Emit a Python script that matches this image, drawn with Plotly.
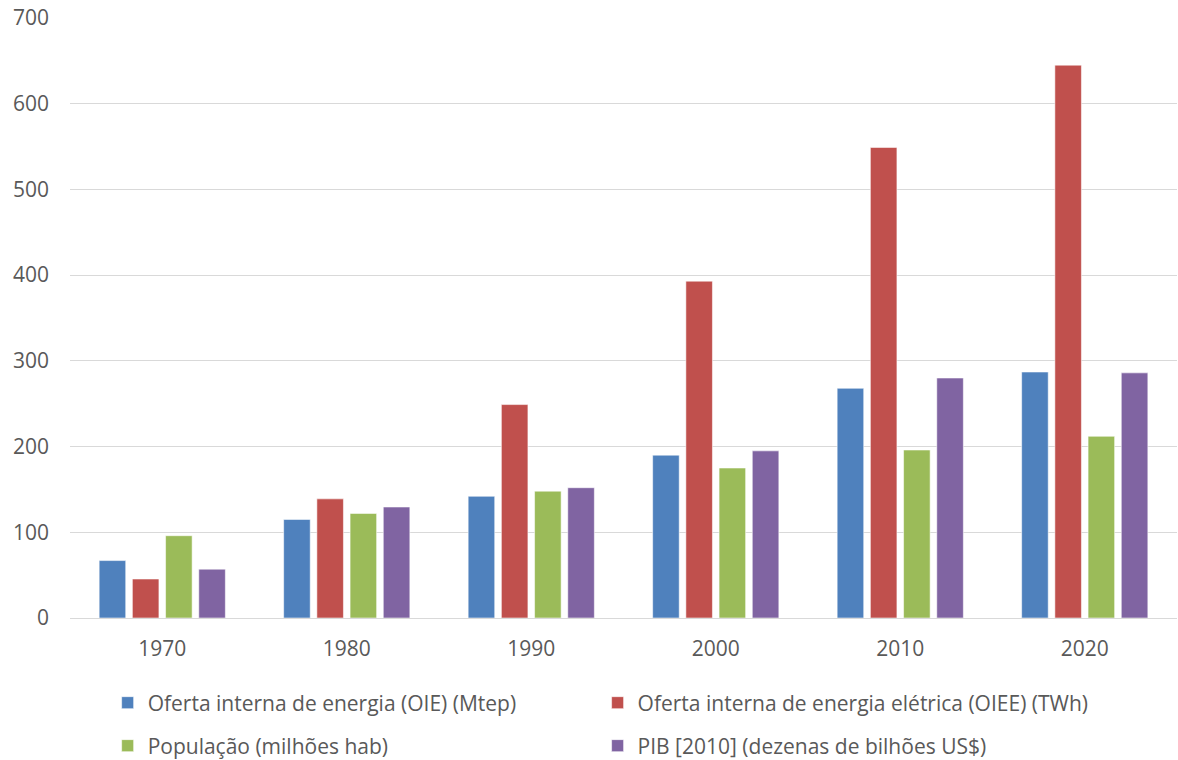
import plotly.graph_objects as go

# Decades on the category axis
anos = ["1970", "1980", "1990", "2000", "2010", "2020"]

# Series values
oie = [67, 115, 142, 190, 268, 287]          # Oferta interna de energia (Mtep)
oiee = [45.5, 139, 249, 393, 549, 645]       # Oferta interna de energia elétrica (TWh)
populacao = [96, 122, 148, 175, 196, 212]    # População (milhões hab)
pib = [57, 129.5, 152, 195, 280, 286]        # PIB [2010] (dezenas de bilhões US$)

nomes = [
    "Oferta interna de energia (OIE) (Mtep)",
    "Oferta interna de energia elétrica (OIEE) (TWh)",
    "População (milhões hab)",
    "PIB [2010] (dezenas de bilhões US$)",
]
cores = ["#4F81BD", "#C0504D", "#9BBB59", "#8064A2"]
series = [oie, oiee, populacao, pib]

# One legend box per entry, laid out as a 2x2 grid under the plot
legendas = ["legend", "legend2", "legend3", "legend4"]
leg_x = [0.034, 0.4766, 0.034, 0.4766]
leg_y = [-0.1417, -0.1417, -0.2133, -0.2133]

FONT = "Open Sans"
CINZA = "#595959"

fig = go.Figure()
for nome, cor, vals, leg in zip(nomes, cores, series, legendas):
    fig.add_trace(go.Bar(
        x=anos, y=vals, name=nome,
        marker=dict(color=cor, line=dict(color="rgba(255,255,255,0.55)", width=1)),
        legend=leg,
    ))

legend_common = dict(
    orientation="h", xanchor="left", yanchor="middle",
    font=dict(family=FONT, size=21, color=CINZA),
    bgcolor="rgba(0,0,0,0)", borderwidth=0,
    itemclick=False, itemdoubleclick=False,
)
legend_layout = {
    leg: dict(x=lx, y=ly, **legend_common)
    for leg, lx, ly in zip(legendas, leg_x, leg_y)
}

fig.update_layout(
    width=1178, height=760,
    margin=dict(l=70, r=1, t=18, b=142, autoexpand=False),
    paper_bgcolor="white", plot_bgcolor="white",
    barmode="group", bargap=0.28, bargroupgap=0.2,
    font=dict(family=FONT, color=CINZA),
    showlegend=True,
    xaxis=dict(
        type="category", showgrid=False,
        showline=True, linecolor="#D9D9D9", linewidth=1.3,
        ticks="", tickfont=dict(family=FONT, size=21, color=CINZA),
        ticklabelstandoff=12,
    ),
    yaxis=dict(
        range=[0, 700], dtick=100, tick0=0,
        showgrid=True, gridcolor="#D9D9D9", gridwidth=1.3,
        zeroline=False, showline=False, ticks="",
        tickfont=dict(family=FONT, size=21, color=CINZA),
        ticklabelstandoff=20,
    ),
    **legend_layout,
)

fig.write_html("out.html")
